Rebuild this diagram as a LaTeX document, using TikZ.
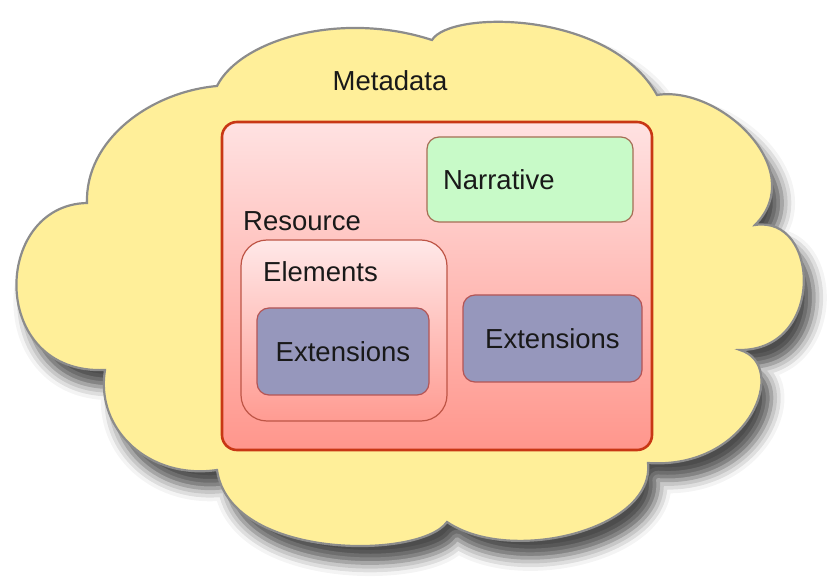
\documentclass[tikz,border=0pt]{standalone}
\usepackage{fontspec}
\setmainfont{Liberation Sans}
\usepackage{tikz}
\usetikzlibrary{shadows.blur}
\usepackage{xcolor}
\definecolor{MetaYellow}{RGB}{255,239,153}
\definecolor{CloudEdge}{RGB}{140,140,140}
\definecolor{ResEdge}{RGB}{200,55,20}
\definecolor{ResTop}{RGB}{255,226,226}
\definecolor{ResBottom}{RGB}{255,150,140}
\definecolor{ElemEdge}{RGB}{190,85,70}
\definecolor{NarrFill}{RGB}{200,250,200}
\definecolor{NarrEdge}{RGB}{165,110,85}
\definecolor{ExtFill}{RGB}{150,151,188}
\definecolor{ExtEdge}{RGB}{180,85,85}

\begin{document}
\begin{tikzpicture}[
x=1pt,
y=-1pt,
txt/.style={
inner sep=0pt,
text=black!90,
font=\fontsize{27.5}{33}\selectfont
},
cloud/.style={
fill=MetaYellow,
draw=CloudEdge,
line width=2.2pt,
blur shadow={shadow xshift=10pt,shadow yshift=-17pt,shadow blur radius=13pt,shadow opacity=70}
},
resbox/.style={
rectangle,
rounded corners=15,
draw=ResEdge,
line width=2.6pt,
top color=ResTop,
bottom color=ResBottom
},
elembox/.style={
rectangle,
rounded corners=26,
draw=ElemEdge,
line width=1.2pt,
top color=ResTop!80!white,
bottom color=ResBottom!95!white
},
narrbox/.style={
txt,
rectangle,
rounded corners=12,
draw=NarrEdge,
line width=1.2pt,
fill=NarrFill,
inner xsep=16pt,
text width=174pt,
minimum height=85,
align=left
},
extbox/.style={
txt,
rectangle,
rounded corners=12,
draw=ExtEdge,
line width=1.2pt,
fill=ExtFill,
minimum height=87
}
]

\useasboundingbox (0,0) rectangle (839,585);

\path[cloud] (87,203)
.. controls (85,140) and (150,92) .. (217,86)
.. controls (240,40) and (340,10) .. (432,40)
.. controls (450,10) and (610,10) .. (657,95)
.. controls (720,85) and (810,170) .. (755,225)
.. controls (820,215) and (825,350) .. (740,350)
.. controls (790,365) and (750,470) .. (648,463)
.. controls (655,530) and (510,565) .. (447,522)
.. controls (420,560) and (230,560) .. (217,470)
.. controls (150,480) and (95,430) .. (105,370)
.. controls (-12,375) and (-8,205) .. cycle;

\node[txt] (meta) at (390,80.5) {Metadata};

\node[resbox,minimum width=430,minimum height=328] (res) at (437,286) {};
\node[txt,anchor=west] (reslbl) at (243,221) {Resource};

\node[narrbox] (narr) at (530,179.5) {Narrative};

\node[elembox,minimum width=206,minimum height=181] (elem) at (344,330.5) {};
\node[txt,anchor=west] (elemlbl) at (263,272) {Elements};

\node[extbox,minimum width=172] (extA) at (343,351.5) {Extensions};
\node[extbox,minimum width=179] (extB) at (552.5,338.5) {Extensions};

\end{tikzpicture}
\end{document}
